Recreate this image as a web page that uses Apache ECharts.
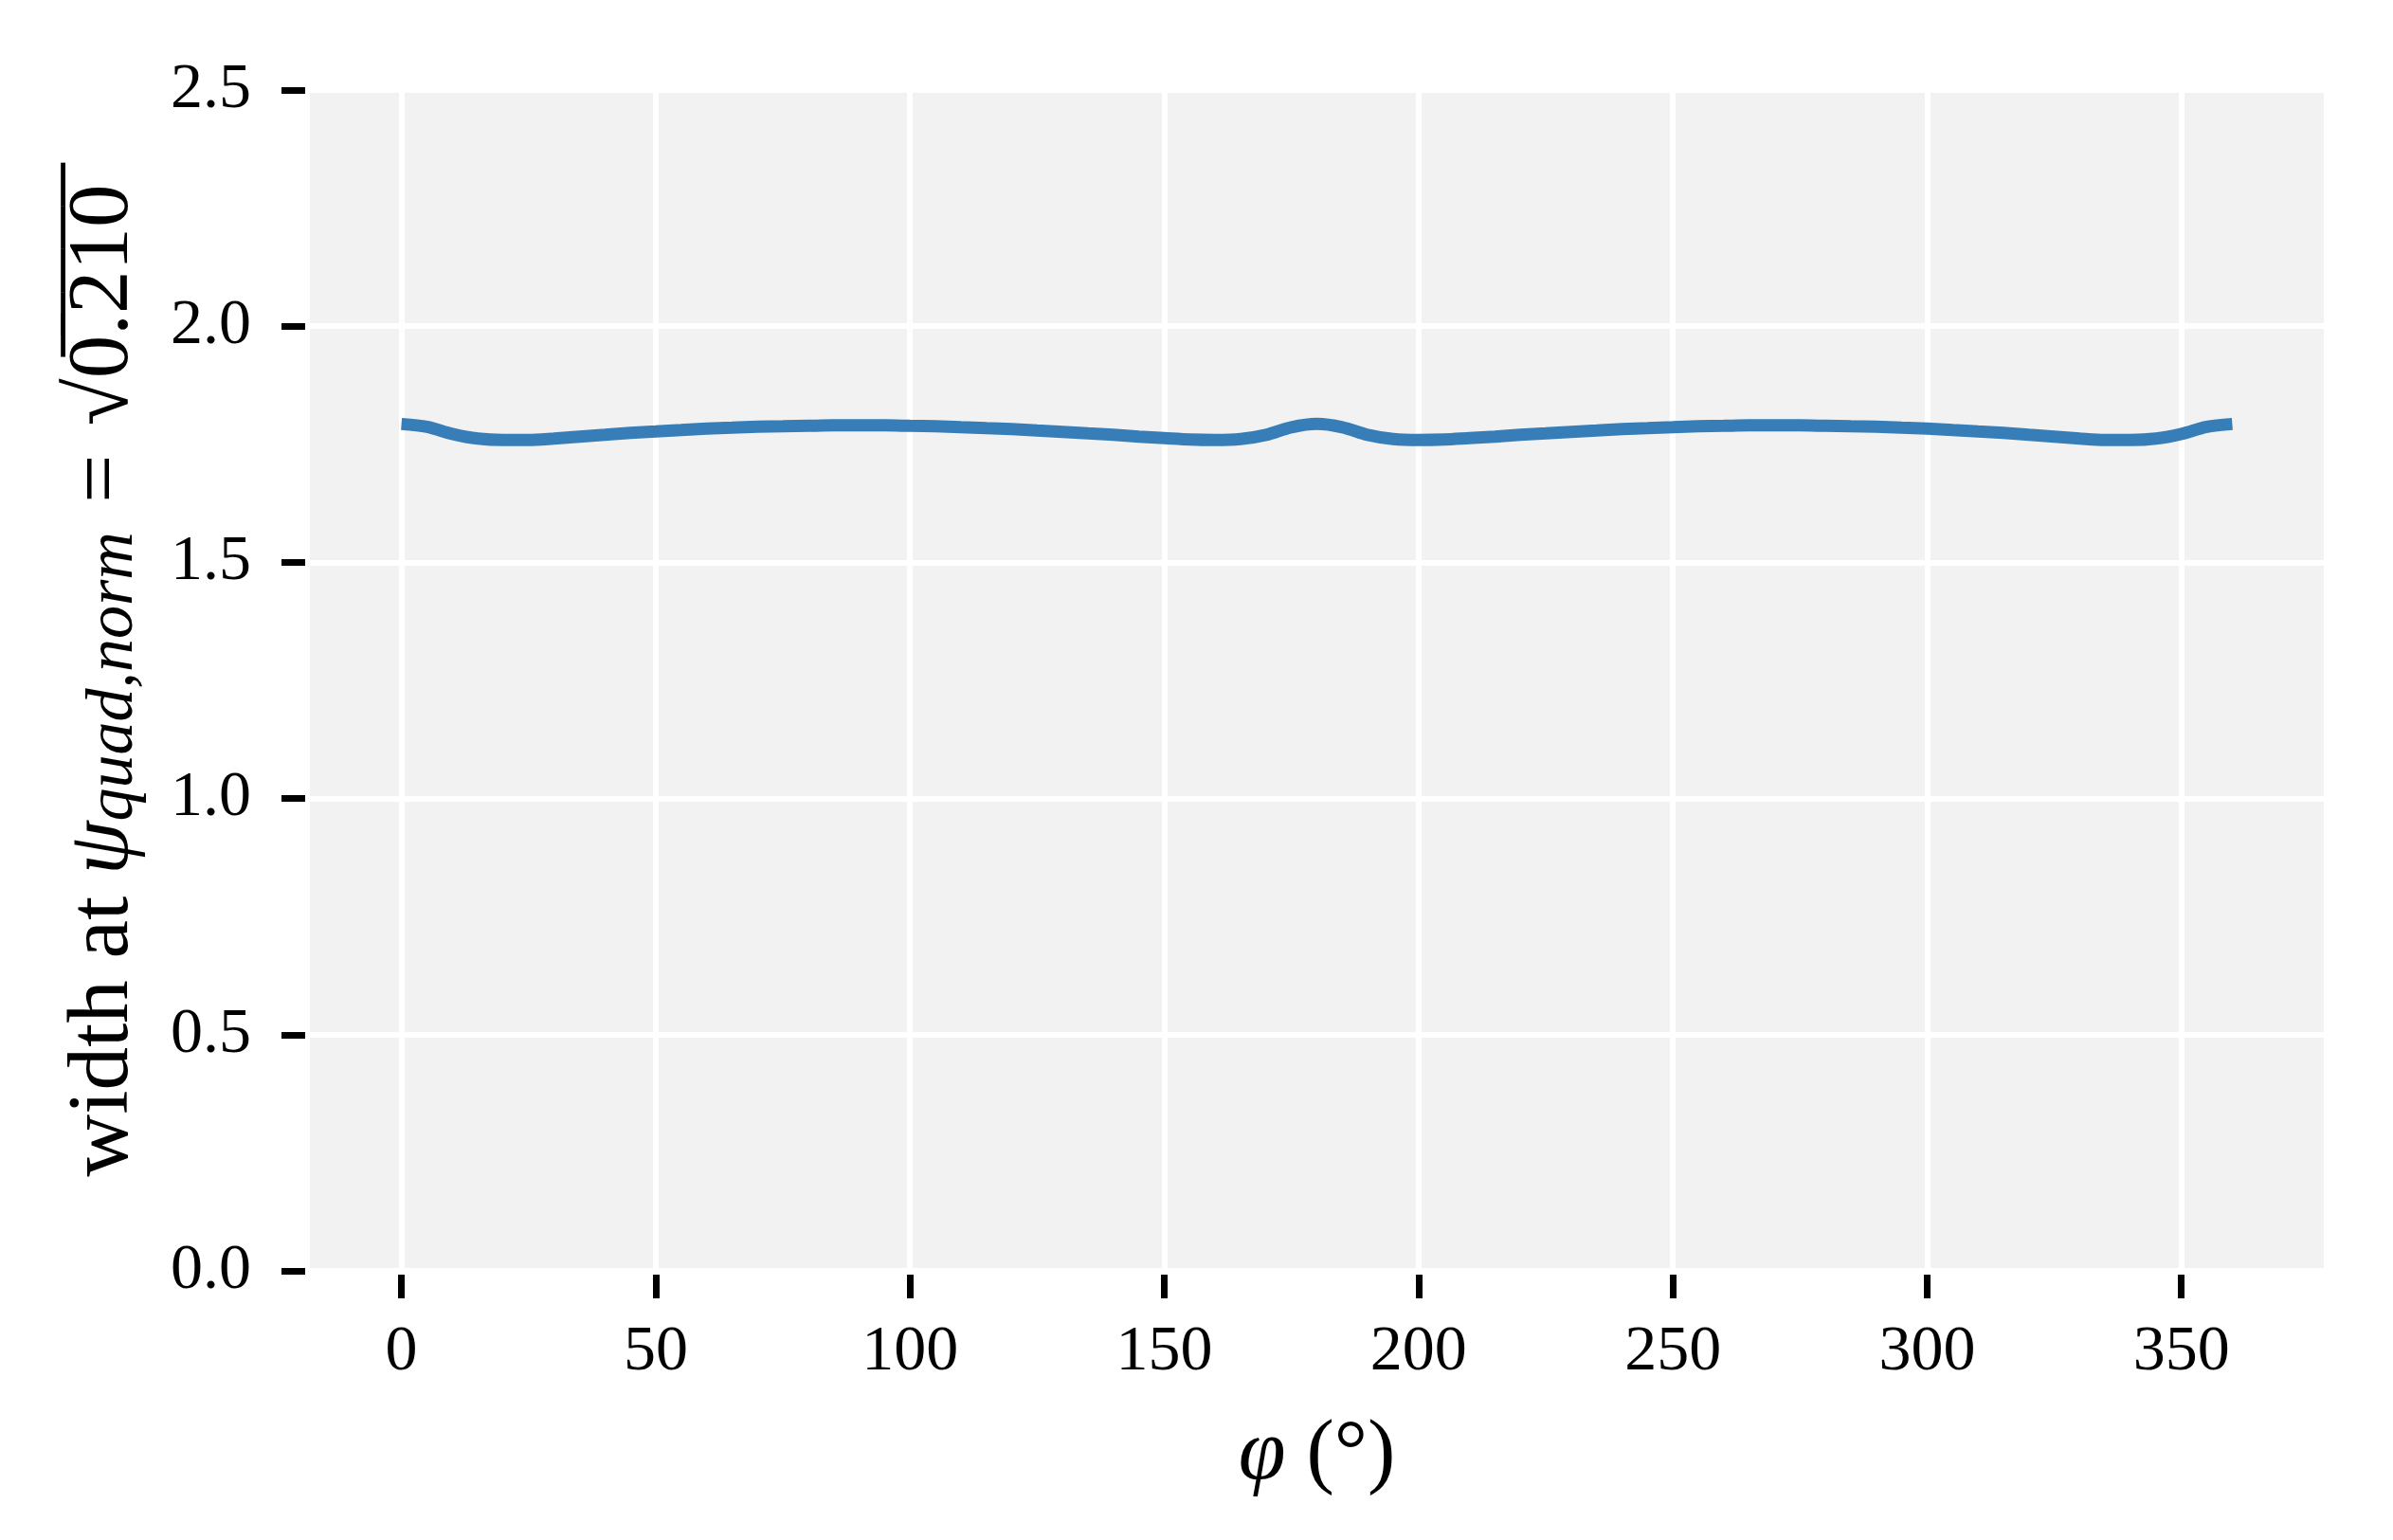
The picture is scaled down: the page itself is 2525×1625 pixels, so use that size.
<!DOCTYPE html>
<html><head><meta charset="utf-8">
<script src="https://cdn.jsdelivr.net/npm/echarts@6/dist/echarts.min.js"></script>
<style>html,body{margin:0;padding:0;background:#fff}#c{width:2525px;height:1625px}</style>
</head><body><div id="c"></div>
<script>
const phi = [0,5,10,15,20,25,30,35,40,45,50,55,60,65,70,75,80,85,90,95,100,105,110,115,120,125,130,135,140,145,150,155,160,165,170,175,180,
  185,190,195,200,205,210,215,220,225,230,235,240,245,250,255,260,265,270,275,280,285,290,295,300,305,310,315,320,325,330,335,340,345,350,355,360];
const widthVals = [1.793,1.787,1.772,1.762,1.759,1.759,1.762,1.766,1.770,1.774,1.777,1.780,1.783,1.785,1.787,1.788,1.789,1.790,1.790,1.790,1.789,1.788,1.786,1.784,1.782,1.779,1.776,1.773,1.770,1.766,1.763,1.760,1.759,1.761,1.770,1.786,1.793,
  1.786,1.770,1.761,1.759,1.760,1.763,1.766,1.770,1.773,1.776,1.779,1.782,1.784,1.786,1.788,1.789,1.790,1.790,1.790,1.789,1.788,1.787,1.785,1.783,1.780,1.777,1.774,1.770,1.766,1.762,1.759,1.759,1.762,1.772,1.787,1.793];
const xTicks = [0,50,100,150,200,250,300,350];
const yTicks = [0,0.5,1.0,1.5,2.0,2.5];

const FONT = '"Liberation Serif", "DejaVu Serif", serif';
const chart = echarts.init(document.getElementById('c'), null, {renderer:'canvas'});
chart.setOption({
  animation: false,
  backgroundColor: '#ffffff',
  grid: {left: 327, right: 73, top: 95, bottom: 284, show: true, backgroundColor: '#f2f2f2', borderWidth: 0},
  xAxis: {
    type: 'value', min: -18, max: 378, offset: 4,
    axisLine: {show: false, onZero: false},
    axisTick: {show: true, length: 25, customValues: xTicks, lineStyle: {color: '#000', width: 7}},
    axisLabel: {customValues: xTicks, margin: 48, fontFamily: FONT, fontSize: 68, color: '#000'},
    splitLine: {show: true, lineStyle: {color: '#ffffff', width: 6}},
    name: '{i|φ}{r| (°)}', nameLocation: 'middle', nameGap: 146,
    nameTextStyle: {rich: {
      i: {fontFamily: FONT, fontStyle: 'italic', fontSize: 90, color: '#000'},
      r: {fontFamily: FONT, fontSize: 88, color: '#000'}
    }}
  },
  yAxis: {
    type: 'value', min: 0, max: 2.5, interval: 0.5, offset: 5,
    axisLine: {show: false, onZero: false},
    axisTick: {show: true, length: 25, lineStyle: {color: '#000', width: 7}},
    axisLabel: {margin: 57, fontFamily: FONT, fontSize: 68, color: '#000', formatter: v => v.toFixed(1)},
    splitLine: {show: true, lineStyle: {color: '#ffffff', width: 6}},
    name: '{r|width at }{i|ψ}{s|quad,norm}{r|\u2004=\u2004√0̅.̅2̅1̅0̅}', nameLocation: 'middle', nameRotate: 90, nameGap: 166,
    nameTextStyle: {rich: {
      r: {fontFamily: FONT, fontSize: 91, color: '#000', verticalAlign: 'bottom'},
      i: {fontFamily: FONT, fontStyle: 'italic', fontSize: 91, color: '#000', verticalAlign: 'bottom'},
      s: {fontFamily: FONT, fontStyle: 'italic', fontSize: 70, color: '#000', verticalAlign: 'bottom'}
    }}
  },
  series: [{
    type: 'line', showSymbol: false, smooth: 0.3,
    data: phi.map((p, i) => [p, widthVals[i]]),
    lineStyle: {color: '#377eb8', width: 13, cap: 'butt'},
    itemStyle: {color: '#377eb8'}
  }]
});
</script></body></html>
